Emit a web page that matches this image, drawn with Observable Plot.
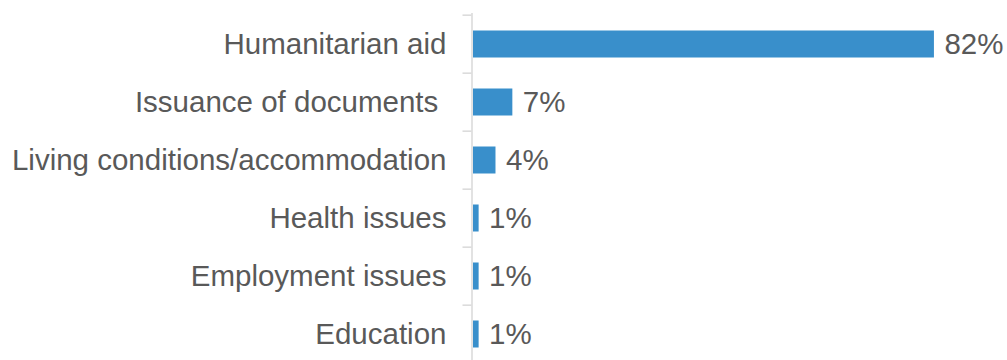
<!DOCTYPE html>
<html>
<head>
<meta charset="utf-8">
<script src="https://cdn.jsdelivr.net/npm/d3@7"></script>
<script src="https://cdn.jsdelivr.net/npm/@observablehq/plot@0.6"></script>
<style>
  html, body { margin: 0; padding: 0; background: #fff; overflow: hidden; }
  #chart svg text { white-space: pre; }
</style>
</head>
<body>
<div id="chart"></div>
<script>
// Main areas where support is needed (share of respondents, %)
const categories = [
  "Humanitarian aid",
  "Issuance of documents ",
  "Living conditions/accommodation",
  "Health issues",
  "Employment issues",
  "Education"
];
const shares = [82, 7, 4, 1, 1, 1];

const data = categories.map((category, i) => ({category, share: shares[i]}));

const width = 1007;
const height = 360;
const marginTop = 13;
const marginBottom = -5;
const step = (height - marginTop - marginBottom) / categories.length;

const ink = "#595959";
const barColor = "#398fcb";
const lineColor = "#d9d9d9";
const fontSize = 29.5;

const chart = Plot.plot({
  width,
  height,
  marginTop,
  marginBottom,
  marginLeft: 473,
  marginRight: 0,
  style: {fontFamily: "'Liberation Sans', Arial, sans-serif", fontSize: `${fontSize}px`, color: ink, background: "#fff"},
  x: {domain: [0, 95], axis: null},
  y: {domain: categories, padding: 0, axis: null},
  marks: [
    // category labels
    Plot.axisY({tickSize: 0, tickPadding: 27, fontSize, fill: ink, label: null}),
    // tick marks at the band boundaries
    Plot.axisY({tickSize: 9, tickFormat: null, label: null, stroke: lineColor, strokeWidth: 1.5, dy: -step / 2, dx: -1.5}),
    // vertical axis line
    Plot.ruleX([0], {stroke: lineColor, strokeWidth: 1.5, dx: -1.5}),
    Plot.barX(data, {x: "share", y: "category", fill: barColor, insetTop: 15.5, insetBottom: 15.5}),
    Plot.text(data, {
      x: "share",
      y: "category",
      text: d => `${d.share}%`,
      textAnchor: "start",
      dx: 10,
      fill: ink,
      fontSize
    })
  ]
});

document.getElementById("chart").append(chart);
</script>
</body>
</html>
